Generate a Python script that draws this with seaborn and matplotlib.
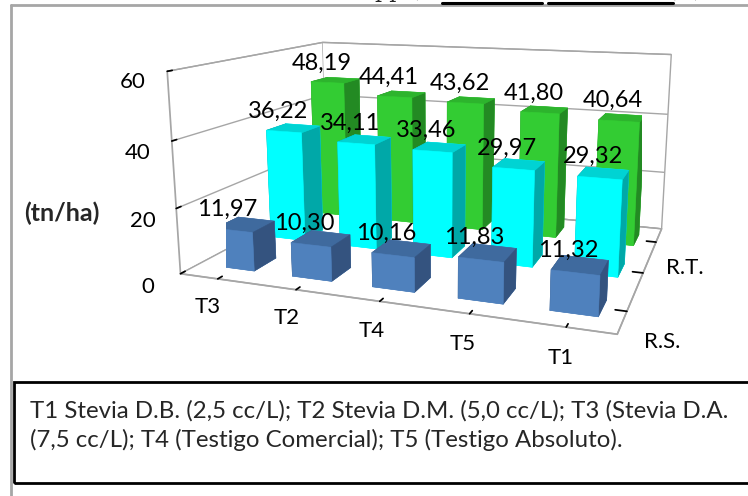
import numpy as np
import pandas as pd
import matplotlib
matplotlib.use("Agg")
import matplotlib.pyplot as plt
import seaborn as sns
from matplotlib.patches import Rectangle
from matplotlib.lines import Line2D

# Yield per treatment (tn/ha), one list per row of bars (front to back)
categories = ["T3", "T2", "T4", "T5", "T1"]
rs_values = [11.97, 10.30, 10.16, 11.83, 11.32]
mid_values = [36.22, 34.11, 33.46, 29.97, 29.32]
rt_values = [48.19, 44.41, 43.62, 41.80, 40.64]
depth_labels = ["R.S.", "", "R.T."]
z_ticks = [0, 20, 40, 60]
unit_label = "(tn/ha)"
note_lines = [
    "T1 Stevia D.B. (2,5 cc/L); T2 Stevia D.M. (5,0 cc/L); T3 (Stevia D.A.",
    "(7,5 cc/L); T4 (Testigo Comercial); T5 (Testigo Absoluto).",
]

sns.set_theme(style="white")
plt.rcParams["font.family"] = ["Lato", "DejaVu Sans"]

W, H = 748, 496
fig = plt.figure(figsize=(W / 100, H / 100), dpi=100)
fig.patch.set_facecolor("white")


def fx(px):
    return px / W


def fy(py):
    return 1 - py / H


rows = [rs_values, mid_values, rt_values]
df = pd.DataFrame(
    [(ci, ri, v) for ri, vals in enumerate(rows) for ci, v in enumerate(vals)],
    columns=["cat", "row", "value"],
)

# front, top and side shades for each row
shades = {
    0: ("#4F81BD", "#3F6A9E", "#34537F"),
    1: ("#00FFFF", "#00D3D3", "#00A8A8"),
    2: ("#33CC33", "#2DB42D", "#238A23"),
}

ax = fig.add_axes([0.10, 0.25, 0.96, 0.84], projection="3d")
ax.set_proj_type("persp", focal_length=0.4)
ax.view_init(elev=12.5, azim=-70)

bw, bd = 0.5, 0.4
face_colors = []
for _, r in df.iterrows():
    front, top, side = shades[int(r["row"])]
    # order: -z, +z, -y, +y, -x, +x
    face_colors += [front, top, front, front, side, side]

ax.bar3d(
    df["cat"].to_numpy() - bw / 2,
    df["row"].to_numpy() - bd / 2,
    np.zeros(len(df)),
    bw, bd, df["value"].to_numpy(),
    color=face_colors, shade=False, edgecolor=face_colors, linewidth=0.4,
)

for _, r in df.iterrows():
    ax.text(r["cat"] - 0.08, r["row"] - bd / 2, r["value"] + 3,
            f"{r['value']:.2f}".replace(".", ","), ha="center", va="bottom",
            fontsize=17, color="black", zorder=10)

ax.set_xlim(-0.5, len(categories) - 0.5)
ax.set_ylim(-0.5, len(depth_labels) - 0.5)
ax.set_zlim(0, 60)
ax.set_box_aspect((4.6, 3.4, 2.15), zoom=1.27)

ax.set_xticks(range(len(categories)))
ax.set_xticklabels(categories)
ax.set_yticks(range(len(depth_labels)))
ax.set_yticklabels(depth_labels)
ax.set_zticks(z_ticks)
ax.tick_params(labelsize=16, colors="black")
ax.tick_params(axis="x", pad=1)
ax.tick_params(axis="z", pad=1)
ax.zaxis.set_ticks_position("lower")

grey = "#A6A6A6"
for axis in (ax.xaxis, ax.yaxis, ax.zaxis):
    axis.set_pane_color((1, 1, 1, 1))
    axis.pane.set_edgecolor(grey)
    axis.line.set_color(grey)
    axis._axinfo["tick"]["color"] = grey
    axis._axinfo["tick"]["inward_factor"] = 0.0
    axis._axinfo["tick"]["outward_factor"] = 0.3
ax.xaxis._axinfo["grid"]["color"] = (1, 1, 1, 0)
ax.yaxis._axinfo["grid"]["color"] = (1, 1, 1, 0)
ax.zaxis._axinfo["grid"]["color"] = grey
ax.zaxis._axinfo["grid"]["linewidth"] = 1.0
ax.grid(True)

fig.text(fx(62), fy(213), unit_label, ha="center", va="center",
         fontsize=18, fontweight="bold")

# chart frame and note box
fig.add_artist(Line2D([fx(11), fx(11)], [fy(5), fy(H + 5)], color=grey, lw=2))
fig.add_artist(Line2D([fx(11), fx(W + 5)], [fy(5), fy(5)], color=grey, lw=2))
fig.add_artist(Rectangle((fx(14), fy(483)), fx(760) - fx(14), fy(382) - fy(483),
                         fill=False, edgecolor="black", lw=2))
fig.text(fx(30), fy(418), note_lines[0], ha="left", va="baseline", fontsize=17.3)
fig.text(fx(30), fy(447), note_lines[1], ha="left", va="baseline", fontsize=17.3)

# tail of the heading above the chart
fig.text(fx(375), fy(-3), "pp (", family="DejaVu Serif", fontsize=16, va="baseline")
fig.add_artist(Line2D([fx(442), fx(542)], [fy(3), fy(3)], color="black", lw=2.2))
fig.add_artist(Line2D([fx(548), fx(673)], [fy(3), fy(3)], color="black", lw=2.2))
fig.text(fx(673), fy(-3), ") (", family="DejaVu Serif", fontsize=16, va="baseline")

fig.savefig("out.png", dpi=100)
